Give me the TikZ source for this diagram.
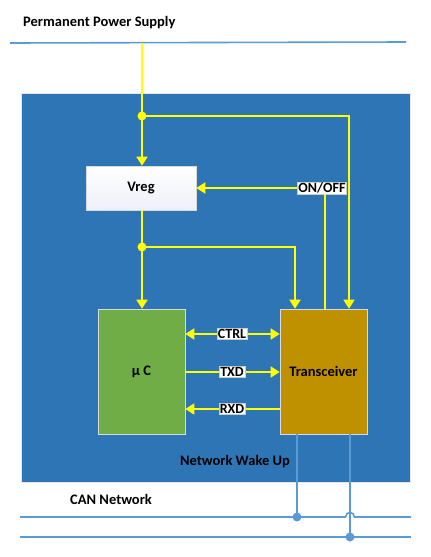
\documentclass[tikz,border=0pt]{standalone}
\usepackage{fontspec}
\setmainfont{Carlito}
\usetikzlibrary{arrows.meta}
\definecolor{bgblue}{HTML}{2E75B6}
\definecolor{lineblue}{HTML}{5B9BD5}
\definecolor{ylw}{HTML}{FFFF00}
\definecolor{ucgreen}{HTML}{70AD47}
\definecolor{trgold}{HTML}{BF9000}
\definecolor{vregbot}{HTML}{EEF0F8}
\tikzset{
  yline/.style={draw=ylw, line width=1.6pt},
  yarrow/.style={yline, -{Triangle[length=9pt,width=11pt]}},
  ydarrow/.style={yline, {Triangle[length=9pt,width=11pt]}-{Triangle[length=9pt,width=11pt]}},
  ydot/.style={circle, fill=ylw, inner sep=0pt, minimum size=9pt},
  bdot/.style={circle, fill=lineblue, inner sep=0pt, minimum size=9pt},
  bline/.style={draw=lineblue, line width=1.6pt},
  sigl/.style={fill=white, draw=gray!40, line width=0.4pt, inner sep=1pt, font=\bfseries\fontsize{14}{15}\selectfont},
  blockbox/.style={draw=gray!30, line width=0.6pt, font=\bfseries\fontsize{14.5}{16}\selectfont},
  plain/.style={font=\bfseries\fontsize{14.5}{16}\selectfont, inner sep=0pt},
}
\begin{document}
\begin{tikzpicture}[x=1pt,y=-1pt]
\useasboundingbox (0,0) rectangle (431,557);
% main blue area
\node[draw=gray!20, line width=0.5pt, fill=bgblue, minimum width=389pt, minimum height=389pt, inner sep=0pt] (area) at (215.5,287.5) {};
% texts
\node[plain, anchor=west] (pps) at (23,23) {Permanent Power Supply};
\node[plain] (nwu) at (235,462) {Network Wake Up};
\node[plain, anchor=west] (can) at (70,499) {CAN Network};
% supply line
\coordinate (psl) at (10,43);
\coordinate (psr) at (406,42);
\draw[bline] (psl) -- (psr);
% blocks
\node[blockbox, top color=white, bottom color=vregbot, minimum width=110pt, minimum height=44pt, inner sep=0pt] (vreg) at (141,188) {Vreg};
\node[blockbox, fill=ucgreen, minimum width=87pt, minimum height=125pt, inner sep=0pt] (uc) at (141.5,371.5) {µ C};
\node[blockbox, fill=trgold, minimum width=87pt, minimum height=125pt, inner sep=0pt] (tr) at (323.5,371.5) {Transceiver};
% junctions
\node[ydot] (j1) at (142,116) {};
\node[ydot] (j2) at (142,247) {};
\coordinate (ptop) at (142,43);
\coordinate (c1) at (349,116);
\coordinate (c2) at (295,247);
% power lines
\draw[yline] (ptop) -- (j1.center);
\draw[yarrow] (j1.center) -- (vreg.north -| j1);
\draw[yarrow] (j1.center) -- (c1) -- (c1 |- tr.north);
\draw[yline] (vreg.south -| j2) -- (j2.center);
\draw[yarrow] (j2.center) -- (j2 |- uc.north);
\draw[yarrow] (j2.center) -- (c2) -- (c2 |- tr.north);
% ON/OFF
\node[sigl] (onoff) at (322,188) {ON/OFF};
\draw[yarrow] (onoff.west) -- (vreg.east);
\draw[yline] (onoff.south -| 325,0) -- (325,309);
% signals
\coordinate (ctrlL) at (uc.east |- 0,334);
\coordinate (ctrlR) at (tr.west |- 0,334);
\draw[ydarrow] (ctrlL) -- (ctrlR);
\node[sigl] (ctrl) at (232,334) {CTRL};
\coordinate (txdL) at (uc.east |- 0,372);
\coordinate (txdR) at (tr.west |- 0,372);
\draw[yarrow] (txdL) -- (txdR);
\node[sigl] (txd) at (232,372) {TXD};
\coordinate (rxdL) at (uc.east |- 0,409);
\coordinate (rxdR) at (tr.west |- 0,409);
\draw[yarrow] (rxdR) -- (rxdL);
\node[sigl] (rxd) at (232,409) {RXD};
% CAN bus
\node[bdot] (d1) at (297,517) {};
\node[bdot] (d2) at (350,537) {};
\draw[bline] (20,517) -- (345.5,517) .. controls (346,511) and (354,511) .. (354.5,517) -- (411,517);
\draw[bline] (20,537) -- (411,537);
\draw[bline] (tr.south -| d1) -- (d1.center);
\draw[bline] (tr.south -| d2) -- (d2.center);
\end{tikzpicture}
\end{document}
